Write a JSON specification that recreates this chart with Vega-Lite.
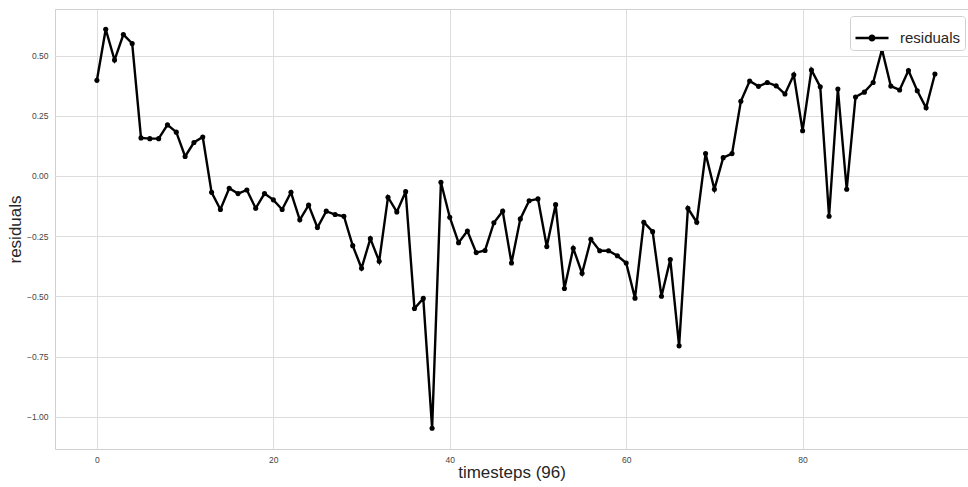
{
  "$schema": "https://vega.github.io/schema/vega-lite/v6.json",
  "autosize": "none",
  "width": 913,
  "height": 440,
  "padding": {"left": 55, "top": 9, "right": 0, "bottom": 38},
  "background": "white",
  "config": {
    "font": "Liberation Sans",
    "view": {"stroke": "#d0d0d0", "strokeWidth": 1}
  },
  "data": {"values": [
    {"t":0,"r":0.397},{"t":1,"r":0.609},{"t":2,"r":0.481},{"t":3,"r":0.587},{"t":4,"r":0.55},
    {"t":5,"r":0.158},{"t":6,"r":0.155},{"t":7,"r":0.155},{"t":8,"r":0.212},{"t":9,"r":0.182},
    {"t":10,"r":0.081},{"t":11,"r":0.139},{"t":12,"r":0.162},{"t":13,"r":-0.068},{"t":14,"r":-0.139},
    {"t":15,"r":-0.051},{"t":16,"r":-0.073},{"t":17,"r":-0.058},{"t":18,"r":-0.134},{"t":19,"r":-0.073},
    {"t":20,"r":-0.099},{"t":21,"r":-0.139},{"t":22,"r":-0.068},{"t":23,"r":-0.182},{"t":24,"r":-0.121},
    {"t":25,"r":-0.214},{"t":26,"r":-0.146},{"t":27,"r":-0.160},{"t":28,"r":-0.167},{"t":29,"r":-0.289},
    {"t":30,"r":-0.383},{"t":31,"r":-0.260},{"t":32,"r":-0.354},{"t":33,"r":-0.088},{"t":34,"r":-0.149},
    {"t":35,"r":-0.065},{"t":36,"r":-0.550},{"t":37,"r":-0.508},{"t":38,"r":-1.047},{"t":39,"r":-0.026},
    {"t":40,"r":-0.171},{"t":41,"r":-0.277},{"t":42,"r":-0.228},{"t":43,"r":-0.318},{"t":44,"r":-0.309},
    {"t":45,"r":-0.194},{"t":46,"r":-0.146},{"t":47,"r":-0.361},{"t":48,"r":-0.178},{"t":49,"r":-0.103},
    {"t":50,"r":-0.095},{"t":51,"r":-0.293},{"t":52,"r":-0.119},{"t":53,"r":-0.467},{"t":54,"r":-0.300},
    {"t":55,"r":-0.404},{"t":56,"r":-0.263},{"t":57,"r":-0.310},{"t":58,"r":-0.310},{"t":59,"r":-0.331},
    {"t":60,"r":-0.361},{"t":61,"r":-0.507},{"t":62,"r":-0.192},{"t":63,"r":-0.231},{"t":64,"r":-0.499},
    {"t":65,"r":-0.347},{"t":66,"r":-0.705},{"t":67,"r":-0.134},{"t":68,"r":-0.192},{"t":69,"r":0.093},
    {"t":70,"r":-0.055},{"t":71,"r":0.076},{"t":72,"r":0.093},{"t":73,"r":0.310},{"t":74,"r":0.394},
    {"t":75,"r":0.372},{"t":76,"r":0.388},{"t":77,"r":0.374},{"t":78,"r":0.340},{"t":79,"r":0.420},
    {"t":80,"r":0.188},{"t":81,"r":0.440},{"t":82,"r":0.370},{"t":83,"r":-0.167},{"t":84,"r":0.361},
    {"t":85,"r":-0.055},{"t":86,"r":0.328},{"t":87,"r":0.348},{"t":88,"r":0.388},{"t":89,"r":0.525},
    {"t":90,"r":0.373},{"t":91,"r":0.357},{"t":92,"r":0.438},{"t":93,"r":0.354},{"t":94,"r":0.283},
    {"t":95,"r":0.423}
  ]},
  "encoding": {
    "x": {
      "field": "t", "type": "quantitative",
      "scale": {"domain": [-4.75, 98.75], "nice": false, "zero": false},
      "axis": {
        "title": "timesteps (96)", "values": [0, 20, 40, 60, 80], "format": "d",
        "titleFontSize": 17, "titleFontWeight": "normal", "titleColor": "#262626", "titlePadding": 1,
        "labelFontSize": 8.5, "labelColor": "#444444", "labelPadding": 6,
        "ticks": false, "domain": false, "gridColor": "#dddddd", "gridWidth": 1
      }
    },
    "y": {
      "field": "r", "type": "quantitative",
      "scale": {"domain": [-1.133, 0.693], "nice": false, "zero": false},
      "axis": {
        "title": "residuals", "values": [-1, -0.75, -0.5, -0.25, 0, 0.25, 0.5], "format": ".2f",
        "titleFontSize": 17, "titleFontWeight": "normal", "titleColor": "#262626", "titlePadding": 2,
        "labelFontSize": 8.5, "labelColor": "#444444", "labelPadding": 7,
        "ticks": false, "domain": false, "gridColor": "#dddddd", "gridWidth": 1
      }
    }
  },
  "layer": [
    {
      "mark": {"type": "line", "strokeWidth": 2.4, "color": "black"},
      "encoding": {
        "color": {
          "datum": "residuals", "type": "nominal",
          "scale": {"range": ["black"]},
          "legend": {
            "title": null, "orient": "none", "legendX": 795, "legendY": 7,
            "labelFontSize": 15, "labelColor": "#262626", "labelOffset": 10,
            "symbolType": "M-1,0L1,0M-0.14,0A0.14,0.14,0,1,0,0.14,0A0.14,0.14,0,1,0,-0.14,0Z",
            "symbolSize": 1089, "symbolStrokeWidth": 2.4, "symbolFillColor": "black",
            "strokeColor": "#d0d0d0", "cornerRadius": 3, "padding": 4, "fillColor": "white",
            "encode": {"symbols": {"update": {"fill": {"value": "black"}, "stroke": {"value": "black"}}}}
          }
        }
      }
    },
    {
      "mark": {"type": "point", "filled": true, "size": 26, "color": "black", "opacity": 1}
    }
  ]
}
